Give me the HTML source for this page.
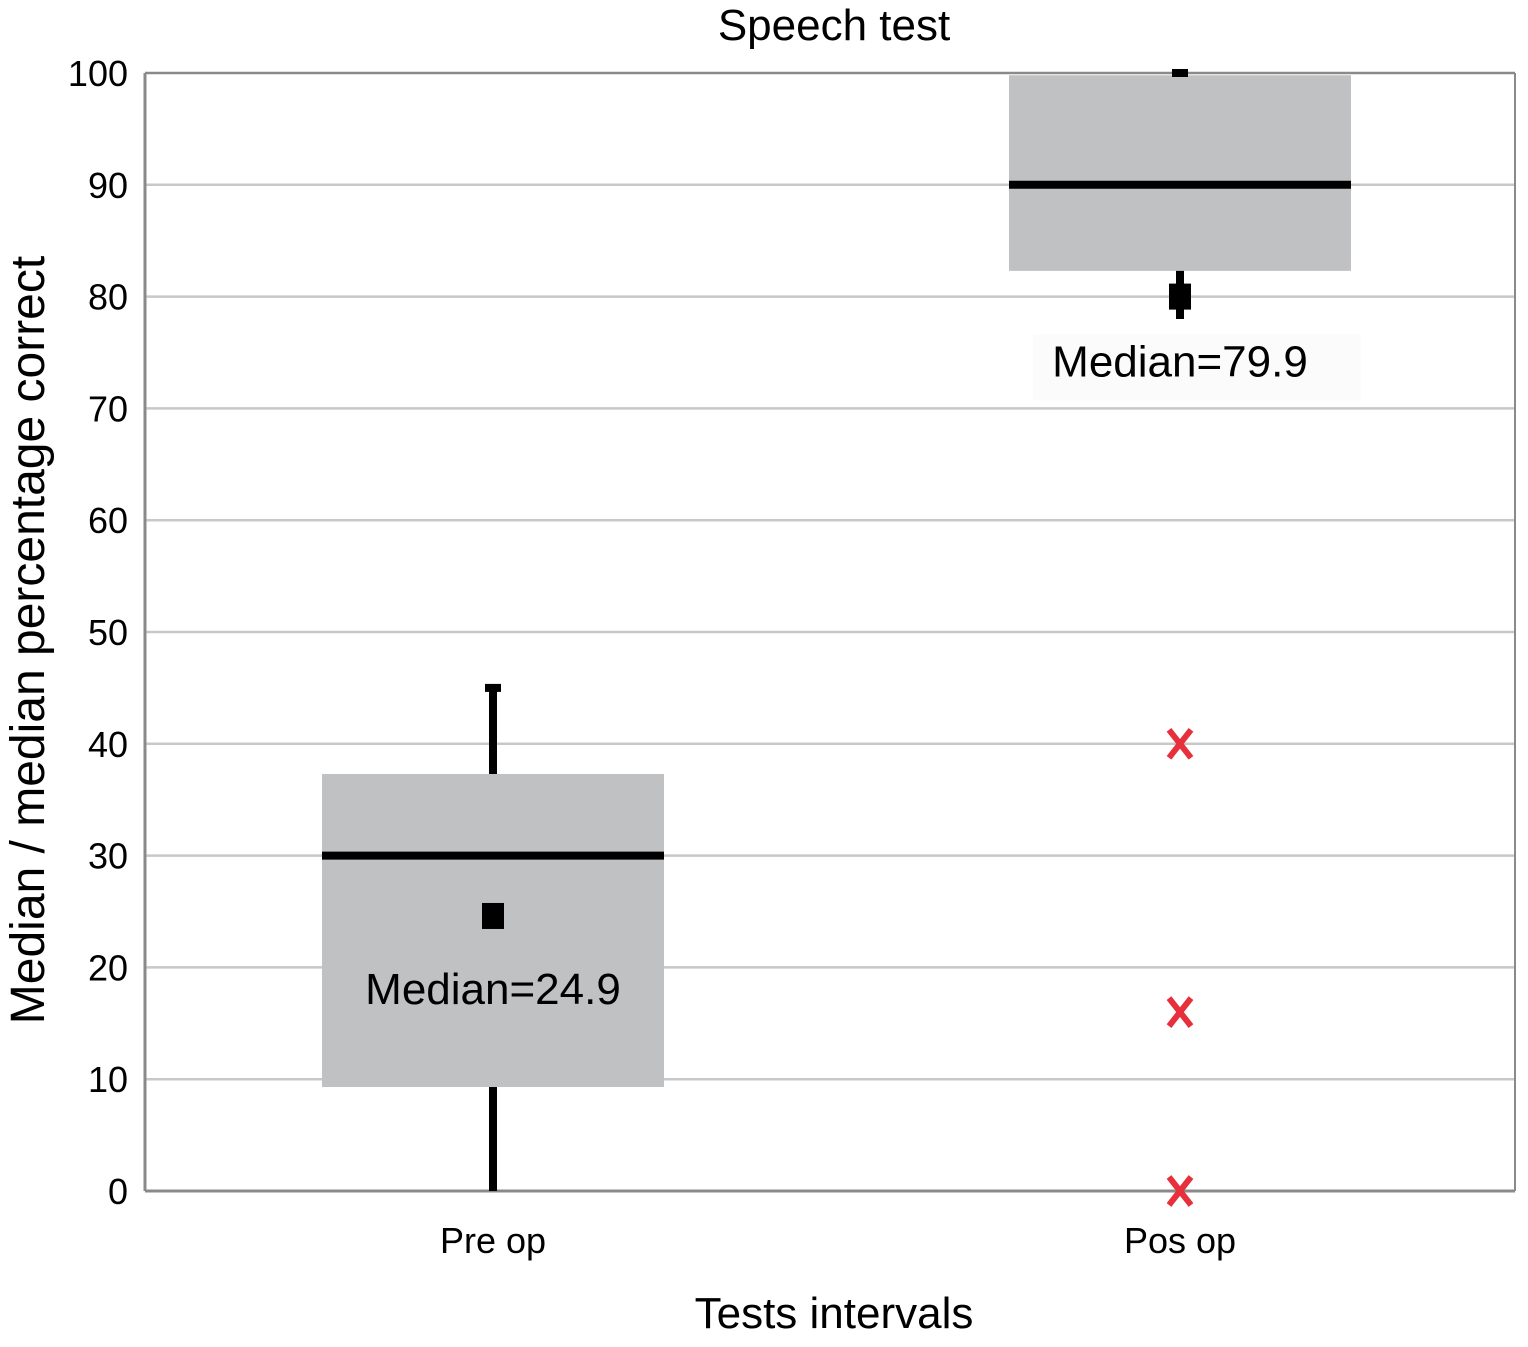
<!DOCTYPE html>
<html><head><meta charset="utf-8"><style>
body{margin:0;background:#fff}
svg text{font-family:"Liberation Sans",Arial,sans-serif;fill:#000}
</style></head><body>
<svg id="chart" width="1528" height="1342" xmlns="http://www.w3.org/2000/svg">
<text x="834" y="40" font-size="44" text-anchor="middle">Speech test</text>
<text x="834" y="1328" font-size="44" text-anchor="middle">Tests intervals</text>
<text transform="translate(44,640) rotate(-90)" font-size="48" text-anchor="middle">Median / median percentage correct</text>
<g id="grid"></g><g id="marks"></g>
</svg>
<script>
const categories=["Pre op","Pos op"];
const q1=[9.3,82.3];
const q3=[37.3,99.8];
const medians=[30,90];
const whiskerLow=[0,78];
const whiskerHigh=[45,100];
const means=[24.6,80];
const meanLabels=["Median=24.9","Median=79.9"];
const outlierCat=[1,1,1];
const outlierVal=[40,16,0];
const yTicks=[0,10,20,30,40,50,60,70,80,90,100];

const L=145,R=1515,T=73,B=1191;
const y=v=>B-(v/100)*(B-T);
const x=i=>493+687*i;
const NS="http://www.w3.org/2000/svg";
const grid=document.getElementById('grid'),marks=document.getElementById('marks');
function mk(tag,attrs,parent){const e=document.createElementNS(NS,tag);for(const k in attrs)e.setAttribute(k,attrs[k]);parent.appendChild(e);return e;}
yTicks.forEach(t=>{
  const ln=mk('line',{x1:L,x2:R,y1:y(t),y2:y(t),stroke:t===0||t===100?'#8a8a8a':'#c8c8c8','stroke-width':t===0?3:2.5},grid);
  
  
  const tx=mk('text',{x:128,y:y(t)+13,'font-size':36,'text-anchor':'end'},grid);tx.textContent=t;
  
  
});
const ax=mk('line',{x1:L,x2:L,y1:T,y2:B,stroke:'#8a8a8a','stroke-width':3},grid);


const rb=mk('line',{x1:R,x2:R,y1:T,y2:B,stroke:'#8a8a8a','stroke-width':2},grid);


const half=171;
categories.forEach((c,i)=>{
  const cx=x(i);
  const wl=mk('line',{x1:cx,x2:cx,y1:y(whiskerHigh[i]),y2:y(whiskerLow[i]),stroke:'#000','stroke-width':8},marks);
  
  
  const bx=mk('rect',{x:cx-half,y:y(q3[i]),width:half*2,height:y(q1[i])-y(q3[i]),fill:'#c0c1c3'},marks);
  
  
  const md=mk('line',{x1:cx-half,x2:cx+half,y1:y(medians[i]),y2:y(medians[i]),stroke:'#000','stroke-width':8},marks);
  
  
  const cap=mk('rect',{x:cx-8,y:y(whiskerHigh[i])-4,width:16,height:8,fill:'#000'},marks);
  
  
  const mn=mk('rect',{x:cx-11,y:y(means[i])-13,width:22,height:26,fill:'#000'},marks);
  
  
  const ly=i===0?y(means[i])+88:y(means[i])+80;
  if(i===1){const bg=mk('rect',{x:cx-147,y:ly-42,width:328,height:66,fill:'#fbfbfb'},marks);
    
    }
  const lt=mk('text',{x:cx,y:ly,'font-size':44,'text-anchor':'middle'},marks);lt.textContent=meanLabels[i];
  
  
  const xt=mk('text',{x:cx,y:1253,'font-size':36,'text-anchor':'middle'},marks);xt.textContent=c;
  
  
});
outlierVal.forEach((v,k)=>{
  const cx=x(outlierCat[k]),cy=y(v);
  const g=mk('path',{d:`M${cx-11} ${cy-14}L${cx+11} ${cy+14}M${cx+11} ${cy-14}L${cx-11} ${cy+14}`,stroke:'#e8303c','stroke-width':6},marks);
  
  
});
</script>
</body></html>
